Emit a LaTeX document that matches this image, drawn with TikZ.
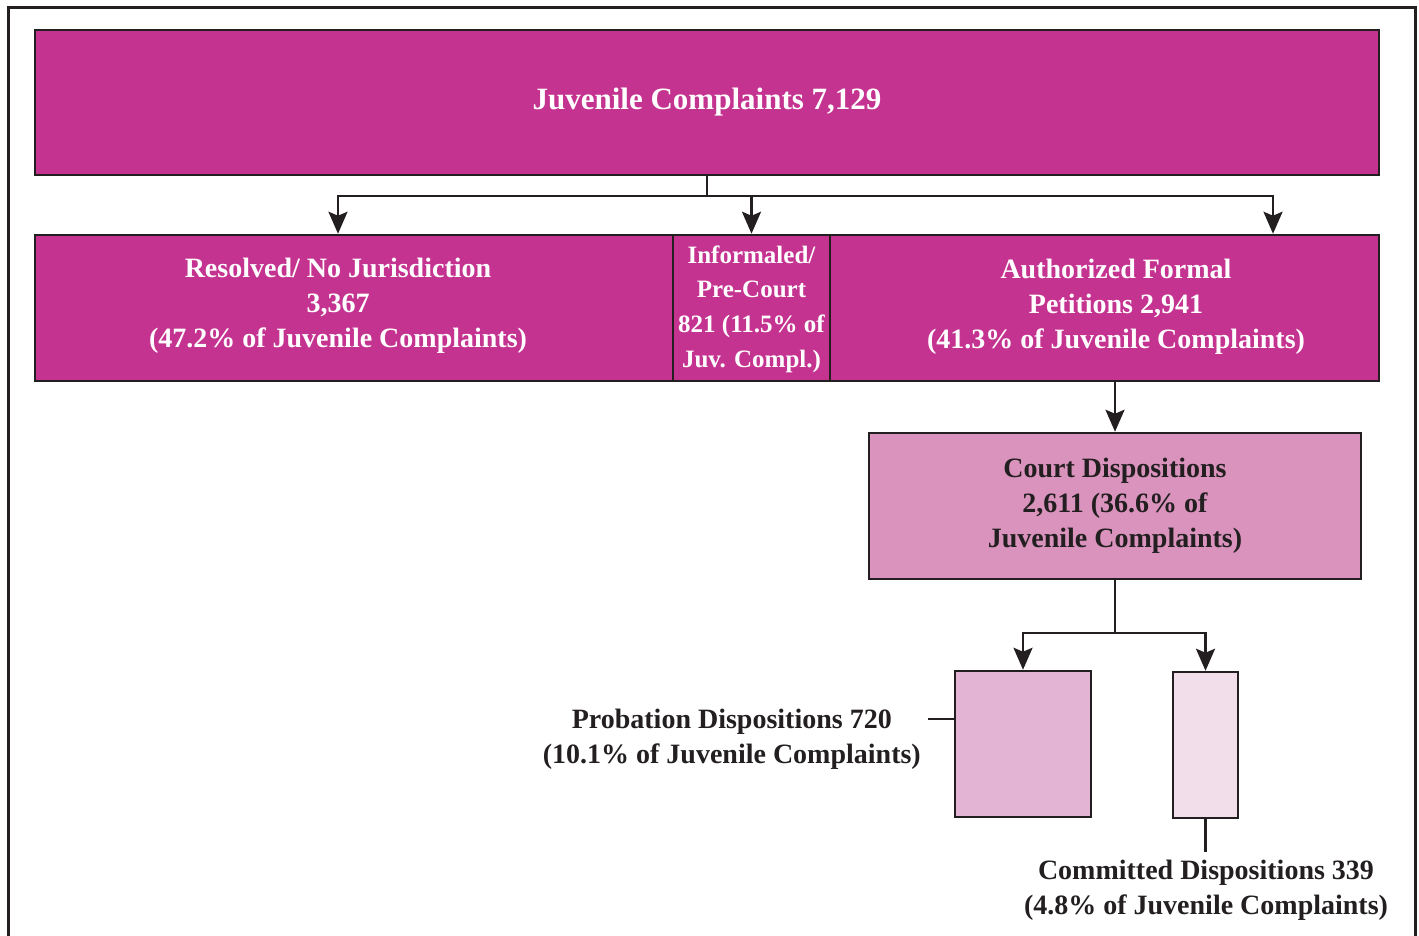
\documentclass[tikz,border=0pt]{standalone}
\usepackage{fontspec}
\setmainfont{Liberation Serif}
\usetikzlibrary{arrows.meta}
\definecolor{jmag}{RGB}{197,51,145}
\definecolor{jcourt}{RGB}{217,147,189}
\definecolor{jprob}{RGB}{228,180,213}
\definecolor{jcomm}{RGB}{242,221,234}
\definecolor{jdark}{RGB}{35,31,32}

\begin{document}
\begin{tikzpicture}[x=1pt,y=-1pt,
  box/.style={draw=jdark,line width=2.5pt,inner sep=0pt},
  caption/.style={align=center,inner sep=0pt,font=\bfseries\fontsize{28}{35}\selectfont},
  flow/.style={draw=jdark,line width=2.5pt,-{Stealth[length=22pt,width=19pt,inset=4pt]}},
  link/.style={draw=jdark,line width=2.5pt}]
  \useasboundingbox (0,0) rectangle (1419,935);
  \draw[jdark,line width=3pt] (8,950) -- (8,7) -- (1415,7) -- (1415,950);

  \node[box,fill=jmag,minimum width=1344pt,minimum height=145pt,caption,text=white,font=\bfseries\fontsize{31}{35}\selectfont] (top) at (707,102.5) {Juvenile Complaints 7,129};

  \node[box,fill=jmag,minimum width=638pt,minimum height=146pt] (res) at (354,308) {};
  \node[box,fill=jmag,minimum width=157pt,minimum height=146pt] (inf) at (751.5,308) {};
  \node[box,fill=jmag,minimum width=549pt,minimum height=146pt] (auth) at (1104.5,308) {};
  \node[caption,text=white] (restext) at (338,306) {Resolved/ No Jurisdiction\\3,367\\(47.2\% of Juvenile Complaints)};
  \node[caption,text=white,font=\bfseries\fontsize{25}{34.7}\selectfont] (inftext) at (751.5,309) {Informaled/\\Pre-Court\\821 (11.5\% of\\Juv. Compl.)};
  \node[caption,text=white] (authtext) at (1116,307) {Authorized Formal\\Petitions 2,941\\(41.3\% of Juvenile Complaints)};

  \node[box,fill=jcourt,minimum width=492pt,minimum height=146pt,caption,text=jdark] (court) at (1115,506) {Court Dispositions\\2,611 (36.6\% of\\Juvenile Complaints)};

  \node[box,fill=jprob,minimum width=136pt,minimum height=146pt] (prob) at (1023,744) {};
  \node[box,fill=jcomm,minimum width=65pt,minimum height=146pt] (com) at (1205.5,745) {};
  \node[caption,text=jdark,anchor=east] (probtext) at (921,739) {Probation Dispositions 720\\(10.1\% of Juvenile Complaints)};
  \node[caption,text=jdark] (comtext) at (1206,890) {Committed Dispositions 339\\(4.8\% of Juvenile Complaints)};

  \coordinate (fork) at (top.south |- 0,196);
  \draw[link] (top.south) -- (fork);
  \draw[flow] (fork) -| (restext |- res.north);
  \draw[flow] (fork) -| (inf.north);
  \draw[flow] (fork) -| (auth.north -| 1273,0);
  \draw[flow] (auth.south -| court.north) -- (court.north);

  \coordinate (fork2) at (court.south |- 0,633);
  \draw[link] (court.south) -- (fork2);
  \draw[flow] (fork2) -| (prob.north);
  \draw[flow] (fork2) -| (com.north);
  \draw[link] (prob.west |- 0,719) -- ++(-26,0);
  \coordinate (comtop) at (com.south |- 0,852);
  \draw[link] (com.south) -- (comtop);
\end{tikzpicture}
\end{document}
